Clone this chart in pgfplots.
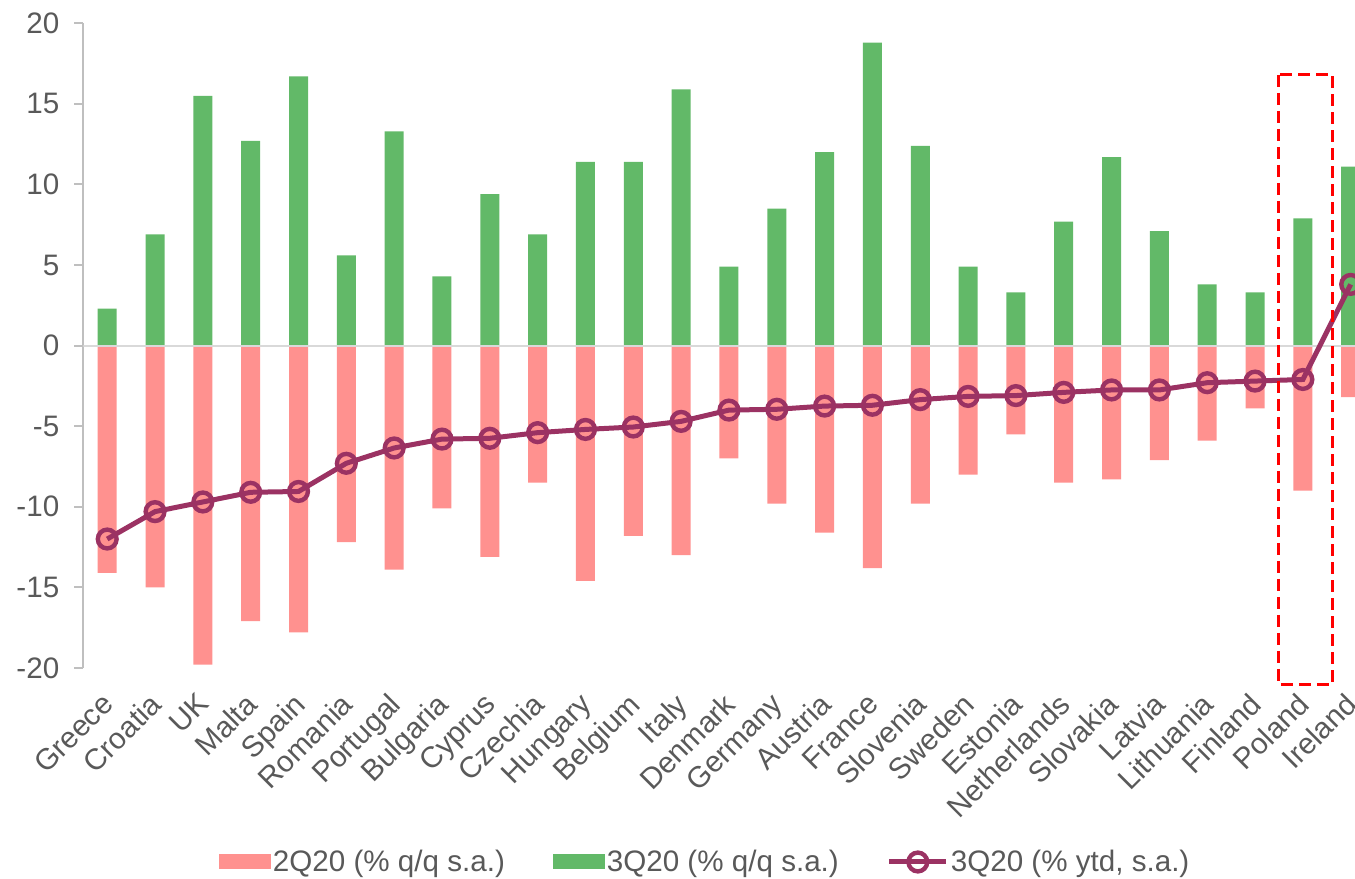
\documentclass[border=0pt]{standalone}
\usepackage{fontspec}
\setmainfont{Liberation Sans}
\usepackage{pgfplots}
\usepackage{pgfplotstable}
\pgfplotsset{compat=1.18}

\definecolor{qtwo}{HTML}{FF918F}
\definecolor{qthree}{HTML}{62B968}
\definecolor{ytd}{HTML}{9B3263}
\definecolor{txt}{HTML}{595959}
\definecolor{axisgray}{HTML}{BFBFBF}
\definecolor{zerogray}{HTML}{D9D9D9}

% legend symbols: a flat swatch for the bars, a short line with one ring for the ytd series
\pgfplotsset{
  swatch/.style={legend image code/.code={\fill[#1] (0pt,-3.75pt) rectangle (26pt,3.75pt);}},
  ringline/.style={legend image code/.code={\draw[mark repeat=2, mark phase=2, ##1]
    plot coordinates {(0pt,0pt) (14.25pt,0pt) (28.5pt,0pt)};}},
}

% GDP growth by country: 2Q20 q/q, 3Q20 q/q and 3Q20 year-to-date (all s.a.)
\pgfplotstableread{
x country     q2     q3     ytd
0 Greece      -14.1  2.3   -12.0
1 Croatia     -15.0  6.9   -10.3
2 UK          -19.8  15.5  -9.7
3 Malta       -17.1  12.7  -9.1
4 Spain       -17.8  16.7  -9.05
5 Romania     -12.2  5.6   -7.3
6 Portugal    -13.9  13.3  -6.35
7 Bulgaria    -10.1  4.3   -5.8
8 Cyprus      -13.1  9.4   -5.75
9 Czechia     -8.5   6.9   -5.4
10 Hungary    -14.6  11.4  -5.2
11 Belgium    -11.8  11.4  -5.05
12 Italy      -13.0  15.9  -4.7
13 Denmark    -7.0   4.9   -4.0
14 Germany    -9.8   8.5   -3.95
15 Austria    -11.6  12.0  -3.75
16 France     -13.8  18.8  -3.7
17 Slovenia   -9.8   12.4  -3.35
18 Sweden     -8.0   4.9   -3.15
19 Estonia    -5.5   3.3   -3.1
20 Netherlands -8.5  7.7   -2.9
21 Slovakia   -8.3   11.7  -2.75
22 Latvia     -7.1   7.1   -2.75
23 Lithuania  -5.9   3.8   -2.3
24 Finland    -3.9   3.3   -2.2
25 Poland     -9.0   7.9   -2.1
26 Ireland    -3.2   11.1   3.8
}\gdp

\begin{document}
\begin{tikzpicture}
\useasboundingbox (-41.65pt,-105.5pt) rectangle (635.9pt,334pt);
\begin{axis}[
  scale only axis,
  width=635.9pt, height=322.35pt,
  xmin=-0.5, xmax=26.09,
  ymin=-20, ymax=20,
  ytick={-20,-15,...,20},
  xtick=data,
  xticklabels from table={\gdp}{country},
  axis y line*=left,
  axis x line*=bottom,
  x axis line style={draw=none},
  y axis line style={draw=axisgray, line width=1pt},
  major x tick style={draw=none},
  major y tick style={draw=axisgray, line width=1pt},
  tick align=outside,
  major tick length=4.5pt,
  /pgf/number format/assume math mode=true,
  tick label style={font=\fontsize{14.8}{17}\selectfont, text=txt},
  yticklabel style={anchor=east, xshift=-4pt},
  xticklabel style={xshift=-3.5pt, yshift=-7pt, rotate=45, anchor=north east, inner sep=0pt},
  clip marker paths=true,
  legend columns=3,
  legend style={at={(0.489,-0.301)}, anchor=center, draw=none,
    font=\fontsize{14.8}{17}\selectfont, text=txt,
    nodes={inner sep=1pt},
    /tikz/every even column/.append style={column sep=23pt}},
]
\addplot[ybar, bar width=9.5pt, bar shift=0pt, fill=qtwo, draw=none, swatch=qtwo]
  table[x=x, y=q2] {\gdp};
\addlegendentry{2Q20 (\% q/q s.a.)}
\addplot[ybar, bar width=9.5pt, bar shift=0pt, fill=qthree, draw=none, swatch=qthree]
  table[x=x, y=q3] {\gdp};
\addlegendentry{3Q20 (\% q/q s.a.)}
\draw[zerogray, line width=1pt] (axis cs:-0.5,0) -- (axis cs:26.09,0);
\addplot[ytd, line width=2.5pt, mark=o, mark size=4.7pt,
  mark options={line width=2.2pt, fill=none}, ringline]
  table[x=x, y=ytd] {\gdp};
\addlegendentry{3Q20 (\% ytd, s.a.)}
\coordinate (boxA) at (axis cs:24.48,16.8);
\coordinate (boxB) at (axis cs:25.62,-21.0);
\end{axis}
\draw[red, line width=1.5pt, dash pattern=on 6pt off 3pt] (boxA) rectangle (boxB);
\end{tikzpicture}
\end{document}
